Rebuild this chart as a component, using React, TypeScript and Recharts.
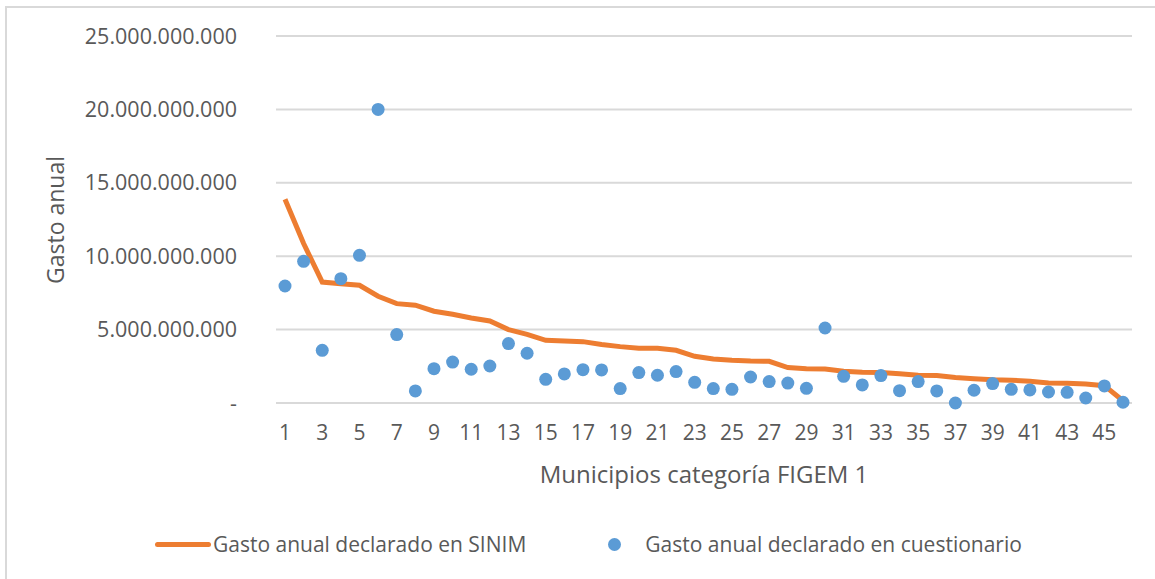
import React from "react";
import {
  ComposedChart,
  Line,
  Scatter,
  XAxis,
  YAxis,
  CartesianGrid,
} from "recharts";

// municipios 1..46
const municipios: number[] = Array.from({ length: 46 }, (_, i) => i + 1);

// Gasto anual declarado en SINIM (miles de millones)
const sinim: number[] = [
  13.88, 10.86, 8.24, 8.13, 8.02, 7.27, 6.77, 6.66, 6.25, 6.04,
  5.79, 5.59, 5.0, 4.68, 4.27, 4.22, 4.18, 3.98, 3.84, 3.73,
  3.73, 3.59, 3.18, 3.0, 2.91, 2.86, 2.84, 2.41, 2.34, 2.32,
  2.16, 2.09, 2.07, 2.0, 1.89, 1.87, 1.73, 1.66, 1.59, 1.55,
  1.48, 1.36, 1.34, 1.29, 1.18, 0.15,
];

// Gasto anual declarado en cuestionario (miles de millones)
const cuestionario: number[] = [
  7.97, 9.65, 3.59, 8.47, 10.06, 20.0, 4.66, 0.82, 2.34, 2.79,
  2.3, 2.52, 4.05, 3.39, 1.61, 1.98, 2.27, 2.25, 0.98, 2.07,
  1.89, 2.14, 1.41, 0.98, 0.93, 1.77, 1.46, 1.36, 1.0, 5.11,
  1.82, 1.23, 1.87, 0.84, 1.46, 0.82, 0.0, 0.87, 1.32, 0.93,
  0.89, 0.75, 0.73, 0.34, 1.16, 0.05,
];

const yTicks: number[] = [0, 5e9, 10e9, 15e9, 20e9, 25e9];

const data = municipios.map((m, i) => ({
  m,
  sinim: sinim[i] * 1e9,
  cuestionario: cuestionario[i] * 1e9,
}));

const FONT = "'Open Sans', sans-serif";
const TEXT = "#595959";
const ORANGE = "#ED7D31";
const BLUE = "#5B9BD5";

const fmt = (v: number) =>
  v === 0 ? "-" : Math.round(v).toString().replace(/\B(?=(\d{3})+(?!\d))/g, ".");

export default function App() {
  return (
    <div
      style={{
        position: "absolute",
        left: 0,
        top: 0,
        width: 1155,
        height: 579,
        background: "#fff",
        overflow: "hidden",
      }}
    >
      <div
        style={{
          position: "absolute",
          left: 5,
          top: 6,
          width: 1200,
          height: 620,
          border: "2px solid #d9d9d9",
        }}
      />
      <div style={{ position: "absolute", left: 0, top: 0 }}>
        <ComposedChart
          width={1155}
          height={579}
          data={data}
          margin={{ top: 36, right: 23, bottom: 136, left: 10 }}
        >
          <CartesianGrid vertical={false} stroke="#d9d9d9" strokeWidth={2} />
          <XAxis
            dataKey="m"
            interval={1}
            padding={{ left: 9, right: 9 }}
            tickLine={false}
            axisLine={{ stroke: "#d9d9d9", strokeWidth: 2 }}
            tickSize={0}
            tickMargin={22}
            tick={{ fill: TEXT, fontSize: 21, fontFamily: FONT }}
            height={40}
            label={{
              content: () => (
                <text
                  x={704}
                  y={473}
                  textAnchor="middle"
                  dominantBaseline="central"
                  fill={TEXT}
                  fontSize={24}
                  fontFamily={FONT}
                >
                  Municipios categoría FIGEM 1
                </text>
              ),
            }}
          />
          <YAxis
            domain={[0, 25e9]}
            ticks={yTicks}
            tickFormatter={fmt}
            axisLine={false}
            tickLine={false}
            tickSize={0}
            tickMargin={39}
            width={266}
            tick={{ fill: TEXT, fontSize: 21.5, fontFamily: FONT }}
            label={{
              content: () => (
                <text
                  x={55}
                  y={220}
                  transform="rotate(-90 55 220)"
                  textAnchor="middle"
                  dominantBaseline="central"
                  fill={TEXT}
                  fontSize={23}
                  fontFamily={FONT}
                >
                  Gasto anual
                </text>
              ),
            }}
          />
          <Line
            dataKey="sinim"
            name="Gasto anual declarado en SINIM"
            stroke={ORANGE}
            strokeWidth={5}
            dot={false}
            isAnimationActive={false}
          />
          <Scatter
            dataKey="cuestionario"
            name="Gasto anual declarado en cuestionario"
            fill={BLUE}
            shape={(p: any) => <circle cx={p.cx} cy={p.cy} r={6.5} fill={BLUE} />}
            isAnimationActive={false}
          />
        </ComposedChart>
      </div>
      <div
        style={{
          position: "absolute",
          top: 530,
          left: 155,
          display: "flex",
          alignItems: "center",
          fontFamily: FONT,
          fontSize: 21,
          color: TEXT,
          whiteSpace: "nowrap",
        }}
      >
        <span
          style={{
            display: "inline-block",
            width: 56,
            height: 5,
            borderRadius: 3,
            background: ORANGE,
          }}
        />
        <span style={{ marginLeft: 2 }}>Gasto anual declarado en SINIM</span>
        <span
          style={{
            display: "inline-block",
            width: 13,
            height: 13,
            borderRadius: "50%",
            background: BLUE,
            marginLeft: 82,
          }}
        />
        <span style={{ marginLeft: 24 }}>Gasto anual declarado en cuestionario</span>
      </div>
    </div>
  );
}
